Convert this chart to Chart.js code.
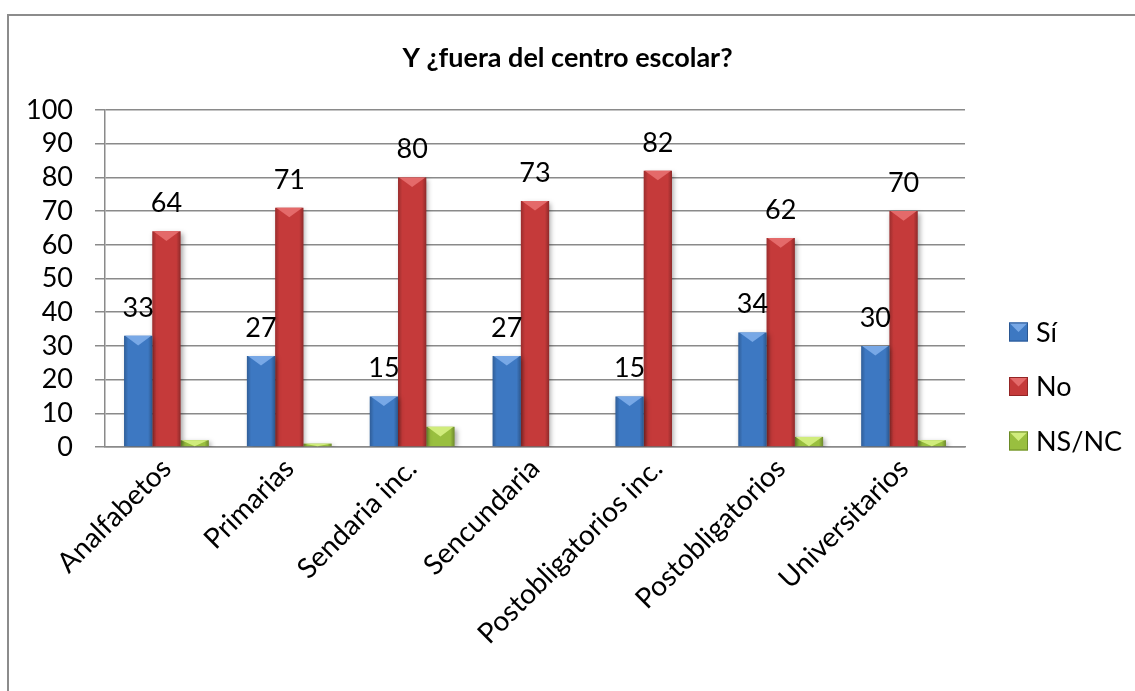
<!DOCTYPE html>
<html>
<head>
<meta charset="utf-8">
<script src="https://cdn.jsdelivr.net/npm/chart.js@4.4.1/dist/chart.umd.min.js"></script>
<style>
  html, body { margin: 0; padding: 0; background: #fff; }
  canvas { display: block; }
</style>
</head>
<body>
<canvas id="chart" width="1135" height="691"></canvas>
<script>
// Survey answers by education level (%)
const categories = ['Analfabetos', 'Primarias', 'Sendaria inc.', 'Sencundaria', 'Postobligatorios inc.', 'Postobligatorios', 'Universitarios'];
const seriesNames = ['Sí', 'No', 'NS/NC'];
const siValues = [33, 27, 15, 27, 15, 34, 30];
const noValues = [64, 71, 80, 73, 82, 62, 70];
const nsncValues = [2, 1, 6, 0, 0, 3, 2];
const yMin = 0, yMax = 100, yStep = 10;
const chartTitle = 'Y ¿fuera del centro escolar?';

const FONT = 'Lato, "Open Sans", sans-serif';
const GRID = '#8a8a8a';

// base / highlight / edge colour for each series
const palette = [
    { base: '#3d78c2', light: '#78a8e6', dark: '#2a5792' },
    { base: '#c53a3a', light: '#e46a6a', dark: '#932525' },
    { base: '#99bf3f', light: '#d0ec7c', dark: '#6a8a26' }
];

// grey frame around the whole chart (runs off the right and bottom edges) and the title
const framePlugin = {
    id: 'frame',
    beforeDraw(chart) {
        const ctx = chart.ctx;
        ctx.save();
        ctx.fillStyle = '#fff';
        ctx.fillRect(0, 0, chart.width, chart.height);
        ctx.strokeStyle = '#8c8c8c';
        ctx.lineWidth = 2;
        ctx.strokeRect(8, 15, chart.width + 20, chart.height + 20);
        ctx.font = 'bold 27px ' + FONT;
        ctx.fillStyle = '#000';
        ctx.textAlign = 'center';
        ctx.textBaseline = 'middle';
        ctx.fillText(chartTitle, chart.width / 2, 58);
        ctx.restore();
    }
};

// soft drop shadow under the bars plus a bevel on top of each one
const bevelPlugin = {
    id: 'bevel',
    beforeDatasetsDraw(chart) {
        const ctx = chart.ctx;
        ctx.save();
        ctx.shadowColor = 'rgba(0,0,0,0.35)';
        ctx.shadowBlur = 5;
        ctx.shadowOffsetX = 2;
        ctx.shadowOffsetY = 2;
    },
    afterDatasetsDraw(chart) {
        const ctx = chart.ctx;
        ctx.restore();
        ctx.save();
        chart.data.datasets.forEach((ds, i) => {
            const meta = chart.getDatasetMeta(i);
            const col = palette[i];
            meta.data.forEach(el => {
                const { x, y, base, width } = el.getProps(['x', 'y', 'base', 'width'], true);
                const l = x - width / 2, r = x + width / 2;
                const t = Math.min(y, base), b = Math.max(y, base);
                if (b - t < 0.5) return;
                const g = ctx.createLinearGradient(l, 0, r, 0);
                g.addColorStop(0, 'rgba(0,0,0,0.22)');
                g.addColorStop(0.15, 'rgba(0,0,0,0)');
                g.addColorStop(0.85, 'rgba(0,0,0,0)');
                g.addColorStop(1, 'rgba(0,0,0,0.28)');
                ctx.fillStyle = g;
                ctx.fillRect(l, t, width, b - t);
                const d = Math.min(width * 0.34, b - t);
                ctx.beginPath();
                ctx.moveTo(l + 1, t);
                ctx.lineTo(r - 1, t);
                ctx.lineTo(x, t + d);
                ctx.closePath();
                ctx.fillStyle = col.light;
                ctx.fill();
            });
        });
        ctx.restore();
    }
};

// value labels above the Sí and No bars
const valueLabels = {
    id: 'valueLabels',
    afterDatasetsDraw(chart) {
        const ctx = chart.ctx;
        ctx.save();
        ctx.font = '27px ' + FONT;
        ctx.fillStyle = '#000';
        ctx.textAlign = 'center';
        ctx.textBaseline = 'alphabetic';
        [0, 1].forEach(i => {
            const meta = chart.getDatasetMeta(i);
            meta.data.forEach((el, j) => {
                ctx.fillText(chart.data.datasets[i].data[j], el.x, el.y - 19);
            });
        });
        ctx.restore();
    }
};

// legend on the right with bevelled squares
const sideLegend = {
    id: 'sideLegend',
    afterDraw(chart) {
        const ctx = chart.ctx;
        const x = chart.chartArea.right + 44;
        const size = 19;
        ctx.save();
        ctx.font = '27px ' + FONT;
        ctx.textBaseline = 'middle';
        ctx.textAlign = 'left';
        chart.data.datasets.forEach((ds, i) => {
            const cy = 332 + i * 54.5;
            const col = palette[i];
            const top = cy - size / 2;
            ctx.fillStyle = col.base;
            ctx.fillRect(x, top, size, size);
            ctx.beginPath();
            ctx.moveTo(x, top);
            ctx.lineTo(x + size, top);
            ctx.lineTo(x + size / 2, top + size / 2);
            ctx.closePath();
            ctx.fillStyle = col.light;
            ctx.fill();
            ctx.strokeStyle = col.dark;
            ctx.lineWidth = 1;
            ctx.strokeRect(x + 0.5, top + 0.5, size - 1, size - 1);
            ctx.fillStyle = '#000';
            ctx.fillText(ds.label, x + size + 8, cy + 1);
        });
        ctx.restore();
    }
};

const ctx = document.getElementById('chart').getContext('2d');
new Chart(ctx, {
    type: 'bar',
    data: {
        labels: categories,
        datasets: [siValues, noValues, nsncValues].map((vals, i) => ({
            label: seriesNames[i],
            data: vals,
            backgroundColor: palette[i].base,
            borderWidth: 0,
            barPercentage: 1,
            categoryPercentage: 0.69
        }))
    },
    options: {
        responsive: false,
        animation: false,
        layout: { padding: { left: 0, right: 170, top: 110, bottom: 0 } },
        plugins: {
            legend: { display: false },
            tooltip: { enabled: false }
        },
        scales: {
            x: {
                grid: { display: false, drawTicks: false },
                border: { display: true, color: GRID, width: 1.5 },
                ticks: {
                    color: '#000',
                    font: { family: FONT, size: 28 },
                    minRotation: 45,
                    maxRotation: 45,
                    autoSkip: false,
                    padding: 5
                },
                afterFit(scale) { scale.height = 244; }
            },
            y: {
                min: yMin,
                max: yMax,
                ticks: {
                    stepSize: yStep,
                    autoSkip: false,
                    color: '#000',
                    font: { family: FONT, size: 27 },
                    padding: 22
                },
                grid: { color: GRID, lineWidth: 1.5, tickLength: 10, tickColor: GRID },
                border: { display: true, color: GRID, width: 1.5 },
                afterFit(scale) { scale.width = 105; }
            }
        }
    },
    plugins: [framePlugin, bevelPlugin, valueLabels, sideLegend]
});
</script>
</body>
</html>
